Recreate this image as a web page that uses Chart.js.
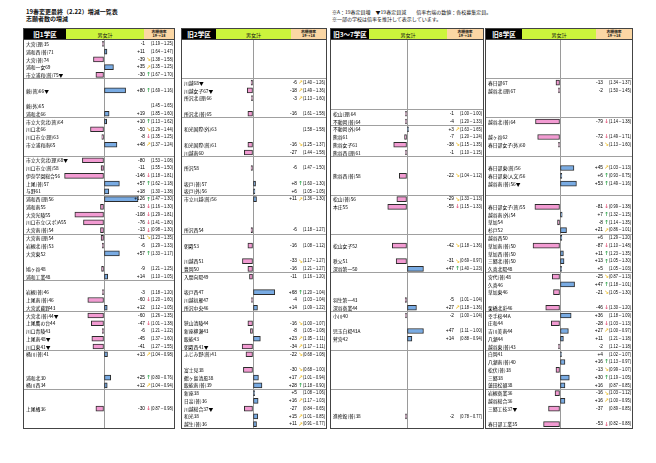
<!DOCTYPE html>
<html lang="ja">
<head>
<meta charset="utf-8">
<title>19春変更最終 増減一覧表</title>
<script src="https://cdn.jsdelivr.net/npm/chart.js@4.4.1/dist/chart.umd.min.js"></script>
<style>
  html, body { margin: 0; padding: 0; background: #fff; }
  body { width: 656px; height: 463px; position: relative; overflow: hidden;
         font-family: "Noto Sans CJK JP", "Noto Sans", sans-serif; color: #111; }
  .ttl { position: absolute; left: 26px; top: 9px; font-size: 6px; font-weight: bold; line-height: 6.5px; white-space: nowrap; }
  .note { position: absolute; left: 332px; top: 9px; font-size: 5px; line-height: 6.5px; white-space: nowrap; }
  .panel { position: absolute; top: 28px; height: 401px; border: 1px solid #444; box-sizing: border-box; }
  .hd { display: flex; height: 10px; border-bottom: 1px solid #444; }
  .hd div { display: flex; align-items: center; justify-content: center; white-space: nowrap; }
  .c1 { background: #000; color: #fff; font-weight: bold; font-size: 6.5px; }
  .c2 { background: #ccf53c; font-size: 5px; }
  .c3 { background: #fbd7a4; font-size: 3.8px; line-height: 4px; flex-direction: column; font-weight: bold; flex: 1; }
  canvas { display: block; }
</style>
</head>
<body>
<div class="ttl">19春変更最終（2.22）増減一覧表<br>志願者数の増減</div>
<div class="note">※A：19春定員増　▼19春定員減　　倍率右端の数値：各校募集定員。<br>※一部の学校は倍率を推計して表示しています。</div>
<script>
// 旧1学区
const names1 = [
  '大宮(理)35', '浦和西(普)71', '大宮(普)74', '浦和一女69', '市立浦和(普)75▼',
  '', '蕨(普)66▼', '', '蕨(外)65', '浦和北66',
  '市立大宮北(普)64', '川口北66', '川口市立(理)63', '市立浦和南65', '',
  '市立大宮北(理)68▼', '川口市立(普)58', '伊奈学園総合56', '上尾(普)57', '与野61',
  '浦和西(理)56', '浦和南55', '大宮光陵55', '川口市立(スポ)A55', '大宮南(普)54',
  '大宮南(理)54', '岩槻北(普)53', '大宮東52', '', '鳩ヶ谷48',
  '浦和工業48', '', '岩槻(普)46', '上尾南(普)46', '大宮武蔵野43',
  '大宮北(普)44▼', '上尾鷹の台44', '川口青陵43', '上尾南48▼', '川口東41▼',
  '桶川(普)41', '', '', '浦和北30', '桶川西34',
  '', '', '上尾橘36', '', ''
];
const change1 = [
  -1, 11, -39, 35, -30,
  null, 80, null, null, 19,
  10, -50, -8, 48, null,
  -80, -11, -146, 57, 18,
  126, -13, -108, -76, -13,
  -11, -6, 57, null, -9,
  14, null, -3, -60, 12,
  -60, -47, -6, -45, -41,
  13, null, null, 25, 12,
  null, null, -30, null, null
];
const mark1 = [
  '', '', 'dr', 'ur', 'u',
  '', 'u', '', '', '',
  'u', 'dr', 'd', 'ur', '',
  '', '', 'd', 'u', '',
  'u', 'd', 'd', 'd', 'd',
  'dr', '', 'u', '', '',
  '', '', '', 'd', '',
  '', 'd', '', '', '',
  'ur', '', '', 'u', 'ur',
  '', '', 'd', '', ''
];
const ratio1 = [
  [1.19, 1.25], [1.64, 1.47], [1.38, 1.58], [1.35, 1.25], [1.67, 1.70],
  null, [1.69, 1.16], null, [1.45, 1.65], [1.85, 1.60],
  [1.13, 1.62], [1.29, 1.44], [1.35, 1.25], [1.37, 1.24], null,
  [1.53, 1.08], [1.55, 1.50], [1.18, 1.81], [1.62, 1.18], [1.30, 1.38],
  [1.47, 1.30], [1.16, 1.30], [1.29, 1.81], [1.41, 1.80], [0.98, 1.30],
  [1.23, 1.35], [1.29, 1.33], [1.33, 1.17], null, [1.21, 1.25],
  [1.10, 1.05], null, [1.18, 1.20], [1.20, 1.60], [1.12, 1.05],
  [1.26, 1.35], [1.01, 1.38], [1.21, 1.22], [1.37, 1.60], [1.27, 1.55],
  [1.04, 0.98], null, null, [0.80, 0.76], [1.04, 0.94],
  null, null, [0.87, 0.98], null, null
];
const bands1 = [5, 10, 15, 20, 25, 31, 35, 40, 45];

// 旧2学区
const names2 = [
  '', '', '', '', '',
  '川越68▼', '川越女子67▼', '所沢北(理)66', '', '所沢北(普)65',
  '', '和光国際(外)63', '', '和光国際(普)61', '川越南60',
  '', '所沢58', '', '坂戸(普)57', '坂戸(外)56',
  '市立川越(普)56', '', '', '', '所沢西54',
  '', '朝霞53', '', '川越西51', '豊岡50',
  '入間向陽49', '', '坂戸西47', '川越初雁47', '所沢中央46',
  '', '狭山清陵44', '新座柳瀬43', '飯能43', '朝霞西41▼',
  'ふじみ野(普)41', '', '富士見38', '鶴ヶ島清風38', '飯能南(普)39',
  '新座38', '日高(普)36', '川越総合37▼', '和光38', '越生(普)36'
];
const change2 = [
  null, null, null, null, null,
  -6, -18, -3, null, -16,
  null, null, null, -16, -27,
  null, -6, null, 8, 6,
  11, null, null, null, -6,
  null, -16, null, -33, -16,
  -11, null, 68, -4, 14,
  null, -16, -8, 23, -34,
  -22, null, -30, 17, 28,
  5, 16, -27, 15, 11
];
const mark2 = [
  '', '', '', '', '',
  'ur', 'ur', 'ur', '', '',
  '', '', '', 'dr', '',
  '', '', '', 'u', '',
  'ur', '', '', '', '',
  '', '', '', 'dr', '',
  '', '', 'u', '', '',
  '', 'dr', '', 'ur', 'ur',
  'dr', '', 'dr', 'ur', 'u',
  '', 'ur', '', 'ur', 'ur'
];
const ratio2 = [
  null, null, null, null, null,
  [1.40, 1.26], [1.49, 1.36], [1.13, 1.60], null, [1.61, 1.58],
  null, [1.58, 1.58], null, [1.25, 1.37], [1.44, 1.58],
  null, [1.47, 1.50], null, [1.60, 1.30], [1.05, 1.05],
  [1.36, 1.30], null, null, null, [1.18, 1.27],
  null, [1.08, 1.12], null, [1.17, 1.27], [1.21, 1.27],
  [1.16, 1.20], null, [1.20, 1.04], [1.03, 1.04], [1.09, 1.22],
  null, [1.00, 1.07], [1.05, 1.08], [1.05, 1.11], [1.17, 1.11],
  [0.68, 1.08], null, [0.68, 1.00], [1.01, 0.94], [1.18, 0.90],
  [1.08, 1.06], [1.17, 1.03], [0.84, 0.65], [1.01, 0.85], [0.91, 0.77]
];
const bands2 = [5, 10, 15, 20, 25, 30, 35, 40, 45];

// 旧3～7学区
const names3 = [
  '', '', '', '', '',
  '', '', '', '', '松山(理)64',
  '不動岡(普)64', '不動岡(外)64', '熊谷61', '熊谷女子61', '熊谷西(理)61',
  '', '', '熊谷西(普)58', '', '',
  '松山(普)56', '本庄55', '', '', '',
  '', '松山女子52', '', '秩父51', '深谷第一50',
  '', '', '', '羽生第一43', '深谷商業44',
  '小川40', '', '児玉白楊43A', '鷲宮42', '',
  '', '', '', '', '',
  '', '', '', '進修館(普)38', ''
];
const change3 = [
  null, null, null, null, null,
  null, null, null, null, -1,
  -4, 3, -7, -38, -1,
  null, null, -22, null, null,
  -29, -55, null, null, null,
  null, -42, null, -31, 47,
  null, null, null, -5, 27,
  -2, null, 47, 14, null,
  null, null, null, null, null,
  null, null, null, -2, null
];
const mark3 = [
  '', '', '', '', '',
  '', '', '', '', '',
  '', 'ur', '', 'dr', '',
  '', '', 'dr', '', '',
  'dr', 'd', '', '', '',
  '', 'dr', '', 'dr', 'u',
  '', '', '', '', 'ur',
  '', '', '', '', '',
  '', '', '', '', '',
  '', '', '', '', ''
];
const ratio3 = [
  null, null, null, null, null,
  null, null, null, null, [1.00, 1.00],
  [1.20, 1.33], [1.63, 1.65], [1.20, 1.24], [1.15, 1.35], [1.10, 1.15],
  null, null, [1.04, 1.12], null, null,
  [1.33, 1.13], [1.15, 1.33], null, null, null,
  null, [1.18, 1.36], null, [0.69, 0.97], [1.40, 1.23],
  null, null, null, [1.01, 1.04], [1.18, 1.36],
  [1.00, 1.04], null, [1.11, 1.00], [0.88, 0.94], null,
  null, null, null, null, null,
  null, null, null, [0.78, 0.77], null
];
const bands3 = [9, 11, 15, 20, 25, 30, 35, 40, 45];

// 旧8学区
const names4 = [
  '', '', '', '', '',
  '春日部67', '越谷北(理)67', '', '', '',
  '越谷北(普)64', '', '越ヶ谷62', '春日部女子(外)60', '',
  '', '春日部東(普)56', '春日部東(人文)56', '越谷南(普)56▼', '',
  '', '春日部女子(普)55', '越谷南(外)54', '草加54', '杉戸52',
  '越谷西50', '草加南(普)50', '草加西(普)50', '三郷北(普)50', '久喜北陽48',
  '宮代(普)48', '久喜46', '草加東46', '', '栗橋北彩46',
  '幸手桜44A', '庄和44', '吉川美南44', '八潮44', '越谷東(普)43',
  '白岡41', '八潮南(普)40', '松伏(普)38', '三郷38', '蓮田松韻38',
  '岩槻商業36', '越谷総合36', '三郷工技37▼', '', '春日部工業35'
];
const change4 = [
  null, null, null, null, null,
  -13, -2, null, null, null,
  -79, null, -72, -3, null,
  null, 45, 6, 53, null,
  null, -81, 7, -8, 21,
  6, -87, 11, 13, 5,
  -25, 47, -21, null, -46,
  36, -28, 27, 11, -2,
  4, 16, -13, 30, 16,
  -16, 16, -37, null, -53
];
const mark4 = [
  '', '', '', '', '',
  '', '', '', '', '',
  'd', '', 'd', 'dr', '',
  '', 'ur', 'u', 'u', '',
  '', 'd', 'u', 'u', 'ur',
  '', 'd', 'u', 'u', '',
  'dr', 'u', 'dr', '', 'd',
  '', 'd', 'ur', '', '',
  '', 'u', 'dr', 'u', '',
  'dr', 'ur', '', '', 'd'
];
const ratio4 = [
  null, null, null, null, null,
  [1.34, 1.37], [1.50, 1.45], null, null, null,
  [1.14, 1.38], null, [1.49, 1.71], [1.13, 1.60], null,
  null, [1.03, 1.13], [0.93, 0.75], [1.49, 1.16], null,
  null, [0.99, 1.38], [1.32, 1.15], [1.14, 1.35], [0.86, 1.01],
  [1.29, 1.20], [1.10, 1.48], [1.23, 1.35], [1.05, 1.30], [1.05, 1.03],
  [0.87, 1.13], [1.18, 1.01], [1.05, 1.30], null, [1.30, 1.20],
  [1.18, 1.09], [1.03, 1.13], [1.00, 0.97], [1.21, 1.18], [1.12, 1.18],
  [1.02, 1.07], [1.13, 0.97], [0.99, 1.07], [1.19, 1.05], [0.87, 0.85],
  [1.03, 1.12], [1.00, 0.95], [0.89, 0.85], null, [0.82, 0.88]
];
const bands4 = [5, 10, 15, 20, 25, 30, 35, 40, 45];

const arrows = {
  u: ['↑', '#36a852'],
  d: ['↓', '#e4587c'],
  ur: ['↗', '#efc233'],
  dr: ['↘', '#efc233']
};

const panels = [
  { title: '旧1学区', left: 23, width: 152, cells: [42, 78], zero: 80, scale: 0.27,
    names: names1, change: change1, mark: mark1, ratio: ratio1, bands: bands1 },
  { title: '旧2学区', left: 181, width: 146, cells: [34, 75], zero: 71, scale: 0.32,
    names: names2, change: change2, mark: mark2, ratio: ratio2, bands: bands2 },
  { title: '旧3～7学区', left: 330, width: 154, cells: [38, 78], zero: 76, scale: 0.35,
    names: names3, change: change3, mark: mark3, ratio: ratio3, bands: bands3 },
  { title: '旧8学区', left: 485, width: 148, cells: [36, 74], zero: 74, scale: 0.31,
    names: names4, change: change4, mark: mark4, ratio: ratio4, bands: bands4 }
];

function rowText(p) {
  return {
    id: 'rowText',
    afterDatasetsDraw(chart) {
      const { ctx, chartArea: a, scales: { y } } = chart;
      ctx.save();
      ctx.textBaseline = 'middle';
      p.names.forEach((name, i) => {
        const py = y.getPixelForValue(i);
        ctx.fillStyle = '#000';
        if (name) {
          ctx.textAlign = 'left';
          ctx.font = '4.8px "Noto Sans CJK JP"';
          ctx.fillText(name, a.left + 2, py + 0.3);
        }
        const v = p.change[i];
        if (v !== null) {
          ctx.textAlign = 'right';
          ctx.font = '4.8px "Liberation Sans"';
          ctx.fillText((v > 0 ? '+' : '') + v, a.right - 29, py);
        }
        const m = arrows[p.mark[i]];
        if (m) {
          ctx.textAlign = 'center';
          ctx.font = 'bold 5.5px "DejaVu Sans"';
          ctx.fillStyle = m[1];
          ctx.fillText(m[0], a.right - 25.5, py);
          ctx.fillStyle = '#000';
        }
        const r = p.ratio[i];
        if (r) {
          ctx.textAlign = 'left';
          ctx.font = '4.8px "Liberation Sans"';
          ctx.fillText('(' + r[0].toFixed(2) + '～' + r[1].toFixed(2) + ')', a.right - 23, py, 22);
        }
      });
      ctx.restore();
    }
  };
}

panels.forEach(p => {
  const box = document.createElement('div');
  box.className = 'panel';
  box.style.left = p.left + 'px';
  box.style.width = p.width + 'px';
  box.innerHTML =
    '<div class="hd"><div class="c1" style="width:' + p.cells[0] + 'px">' + p.title + '</div>' +
    '<div class="c2" style="width:' + p.cells[1] + 'px">男女計</div>' +
    '<div class="c3"><span>志願倍率</span><span>19→18</span></div></div>';
  const w = p.width - 2, h = 388;
  const cv = document.createElement('canvas');
  cv.width = w; cv.height = h;
  cv.style.width = w + 'px'; cv.style.height = h + 'px';
  box.appendChild(cv);
  document.body.appendChild(box);

  new Chart(cv.getContext('2d'), {
    type: 'bar',
    data: {
      labels: p.names,
      datasets: [{
        data: p.change,
        backgroundColor: p.change.map(v => v >= 0 ? '#79abe3' : '#f29bd2'),
        borderColor: '#2b2b2b',
        borderWidth: 1,
        borderSkipped: false,
        barThickness: 5,
        minBarLength: 1.5
      }]
    },
    options: {
      indexAxis: 'y',
      responsive: false,
      animation: false,
      devicePixelRatio: 1,
      layout: { padding: 0 },
      plugins: { legend: { display: false }, tooltip: { enabled: false } },
      scales: {
        x: {
          min: -p.zero / p.scale,
          max: (w - p.zero) / p.scale,
          afterBuildTicks: s => { s.ticks = [{ value: 0 }]; },
          afterFit: s => { s.height = 0; },
          ticks: { display: false },
          border: { display: false },
          grid: { color: '#9a9a9a', drawTicks: false }
        },
        y: {
          afterFit: s => { s.width = 0; },
          ticks: { display: false },
          border: { display: false },
          grid: {
            offset: true,
            drawTicks: false,
            color: c => p.bands.includes(c.index) ? '#a0a0a0' : 'rgba(0,0,0,0)'
          }
        }
      }
    },
    plugins: [rowText(p)]
  });
});
</script>
</body>
</html>
